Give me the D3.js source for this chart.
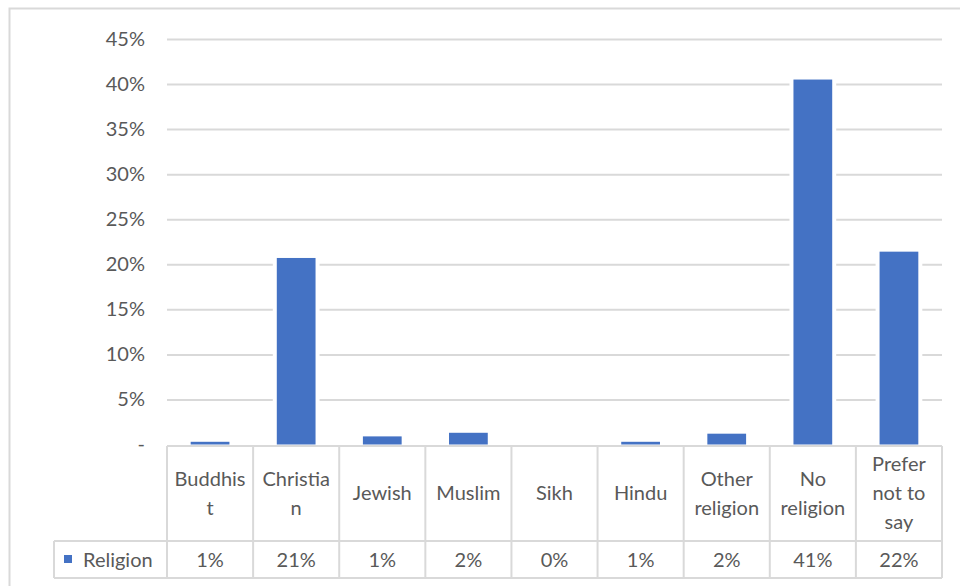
<!DOCTYPE html>
<html><head><meta charset="utf-8">
<script src="https://cdn.jsdelivr.net/npm/d3@7"></script>
<style>body{margin:0;background:#fff}svg{display:block}</style>
</head><body><svg id="c" width="960" height="586"></svg>
<script>
const categories = ["Buddhist","Christian","Jewish","Muslim","Sikh","Hindu","Other religion","No religion","Prefer not to say"];
const categoryLines = [["Buddhis","t"],["Christia","n"],["Jewish"],["Muslim"],["Sikh"],["Hindu"],["Other","religion"],["No","religion"],["Prefer","not to","say"]];
const values = [0.003,0.207,0.009,0.013,0,0.003,0.012,0.405,0.214];
const tableLabels = ["1%","21%","1%","2%","0%","1%","2%","41%","22%"];
const seriesName = "Religion";
const yTicks = [0,0.05,0.10,0.15,0.20,0.25,0.30,0.35,0.40,0.45];

const svg = d3.select("#c");
const font = "Lato, 'Open Sans', sans-serif";
const fs = "20px";
const txt = "#595959", grid = "#d9d9d9", blue = "#4472c4";
const L = 167, R = 942, T = 39, B = 444.5;
const x = d3.scaleBand().domain(categories).range([L, R]).paddingInner(0.55).paddingOuter(0.275);
const xc = d3.scaleBand().domain(categories).range([L, R]);
const y = d3.scaleLinear().domain([0, 0.45]).range([B, T]);

// outer border
svg.append("rect").attr("x",9.5).attr("y",8.5).attr("width",980).attr("height",600)
  .attr("fill","none").attr("stroke",grid).attr("stroke-width",2);

// gridlines
const yAxis = d3.axisLeft(y).tickValues(yTicks).tickSize(-(R-L)).tickPadding(22)
  .tickFormat(d => d === 0 ? "-" : d3.format(".0%")(d));
const ga = svg.append("g").attr("transform",`translate(${L},0)`).call(yAxis);
ga.select(".domain").remove();
ga.selectAll(".tick line").attr("stroke",grid).attr("stroke-width",2)
  .filter(d => d === 0).remove();
ga.selectAll(".tick text").attr("fill",txt).style("font-family",font).style("font-size",fs);

// bars with white halo
const bars = svg.append("g");
bars.selectAll("rect.halo").data(values).join("rect").attr("class","halo")
  .attr("x",(d,i)=>x(categories[i])-4).attr("width",x.bandwidth()+8)
  .attr("y",d=>y(d)-4).attr("height",d=>B-y(d)+4).attr("fill","#fff")
  .attr("display",d=>d>0?null:"none");
bars.selectAll("rect.bar").data(values).join("rect").attr("class","bar")
  .attr("x",(d,i)=>x(categories[i])).attr("width",x.bandwidth())
  .attr("y",d=>y(d)).attr("height",d=>B-y(d)).attr("fill",blue);

// data table
const tTop = 446, tMid = 541, tBot = 578, legL = 54;
const tg = svg.append("g").attr("stroke",grid).attr("stroke-width",2).attr("fill","none");
tg.append("line").attr("x1",L).attr("x2",R).attr("y1",tTop).attr("y2",tTop);
tg.append("line").attr("x1",legL).attr("x2",R).attr("y1",tMid).attr("y2",tMid);
tg.append("line").attr("x1",legL).attr("x2",R).attr("y1",tBot).attr("y2",tBot);
tg.append("line").attr("x1",legL).attr("x2",legL).attr("y1",tMid).attr("y2",tBot);
const bounds = categories.map(c => xc(c)).concat([R]);
tg.selectAll("line.v").data(bounds).join("line").attr("class","v")
  .attr("x1",d=>d).attr("x2",d=>d).attr("y1",tTop).attr("y2",tBot);

// header labels
const lh = 29, midY = 493;
const hg = svg.append("g").style("font-family",font).style("font-size",fs).attr("fill",txt).attr("text-anchor","middle");
categoryLines.forEach((lines,i) => {
  const cx = xc(categories[i]) + xc.bandwidth()/2;
  const start = midY - (lines.length-1)*lh/2;
  lines.forEach((ln,j) => {
    hg.append("text").attr("x",cx).attr("y",start + j*lh).attr("dy","0.35em").text(ln);
  });
});
// value row
hg.selectAll("text.v").data(tableLabels).join("text").attr("class","v")
  .attr("x",(d,i)=>xc(categories[i])+xc.bandwidth()/2).attr("y",(tMid+tBot)/2).attr("dy","0.35em").text(d=>d);
// legend key
svg.append("rect").attr("x",64).attr("y",555).attr("width",8).attr("height",8).attr("fill",blue);
svg.append("text").attr("x",83).attr("y",(tMid+tBot)/2).attr("dy","0.35em")
  .style("font-family",font).style("font-size",fs).attr("fill",txt).text(seriesName);
</script></body></html>
